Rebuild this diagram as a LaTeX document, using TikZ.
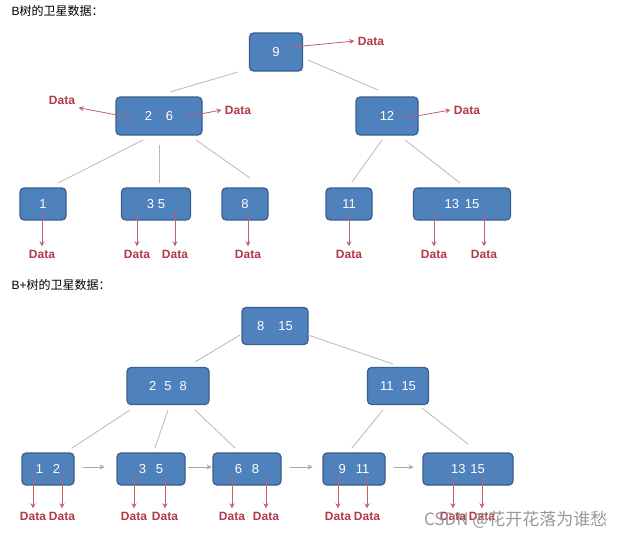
\documentclass[tikz,border=0pt]{standalone}
\usepackage{fontspec}
\setmainfont{Liberation Sans}
\newfontfamily\cjk{Noto Sans CJK SC}
\usetikzlibrary{arrows.meta}
\definecolor{keyblue}{HTML}{4F81BD}
\definecolor{keyedge}{HTML}{3A5F8C}
\definecolor{datared}{HTML}{B03A48}
\tikzset{
  key/.style={draw=keyedge, line width=1.2pt, fill=keyblue, rounded corners=4pt,
    text=white, font=\fontsize{13}{13}\selectfont, inner sep=0pt, anchor=center},
  data/.style={text=datared, font=\fontsize{12}{12}\selectfont\bfseries},
  link/.style={draw=gray!55, line width=0.8pt},
  ptr/.style={draw=datared!80, line width=0.8pt, arrows={-Stealth[width=5pt, length=5pt, open]}},
  nxt/.style={draw=gray!70, line width=0.8pt, arrows={-Stealth[width=5pt, length=5pt, open]}}
}
\begin{document}
\begin{tikzpicture}[x=1pt, y=-1pt]
\useasboundingbox[fill=white] (0, 0) rectangle (625, 539);
\node[anchor=west, font=\fontsize{12}{12}\selectfont] (title_b) at (8, 11) {B{\cjk 树的卫星数据：}};
\node[anchor=west, font=\fontsize{12}{12}\selectfont] (title_bp) at (8, 285) {B+{\cjk 树的卫星数据：}};

% B tree
\node[key, minimum width=53pt, minimum height=38pt] (K9) at (276, 52) {9};
\node[key, minimum width=86pt, minimum height=38pt] (K26) at (159, 116) {2\hspace{14pt}6};
\node[key, minimum width=62pt, minimum height=38pt] (K12) at (387, 116) {12};
\node[key, minimum width=46pt, minimum height=32pt] (K1) at (43, 204) {1};
\node[key, minimum width=69pt, minimum height=32pt] (K35) at (156, 204) {3\hspace{4pt}5};
\node[key, minimum width=46pt, minimum height=32pt] (K8) at (245, 204) {8};
\node[key, minimum width=46pt, minimum height=32pt] (K11) at (349, 204) {11};
\node[key, minimum width=97pt, minimum height=32pt] (K1315) at (462, 204) {13\hspace{6pt}15};

\draw[link] (238, 72) -- (170, 92);
\draw[link] (308, 60) -- (378, 90);
\draw[link] (143, 140) -- (58, 183);
\draw[link] (159, 145) -- (159, 183);
\draw[link] (196, 140) -- (250, 178);
\draw[link] (382, 140) -- (352, 182);
\draw[link] (405, 140) -- (460, 183);

\node[data] (D9) at (371, 41) {Data};
\node[data] (D2) at (62, 100) {Data};
\node[data] (D6) at (238, 110) {Data};
\node[data] (D12) at (467, 110) {Data};
\draw[ptr] (293, 47) -- (D9.west);
\draw[ptr] (133, 118) -- (D2.south east);
\draw[ptr] (185, 117) -- (D6.west);
\draw[ptr] (405, 118) -- (D12.west);

\foreach \x/\n in {42/a, 137/b, 175/c, 248/d, 349/e, 434/f, 484/g} {
  \node[data] (DL\n) at (\x, 254) {Data};
  \draw[ptr] (\x, 212) -- (DL\n.north);
}

% B+ tree
\node[key, minimum width=66pt, minimum height=37pt] (P815) at (275, 326) {8\hspace{14pt}15};
\node[key, minimum width=82pt, minimum height=37pt] (P258) at (168, 386) {2\hspace{8pt}5\hspace{8pt}8};
\node[key, minimum width=61pt, minimum height=37pt] (P1115) at (398, 386) {11\hspace{8pt}15};
\node[key, minimum width=52pt, minimum height=32pt] (L12) at (48, 469) {1\hspace{10pt}2};
\node[key, minimum width=68pt, minimum height=32pt] (L35) at (151, 469) {3\hspace{10pt}5};
\node[key, minimum width=68pt, minimum height=32pt] (L68) at (247, 469) {6\hspace{10pt}8};
\node[key, minimum width=62pt, minimum height=32pt] (L911) at (354, 469) {9\hspace{10pt}11};
\node[key, minimum width=90pt, minimum height=32pt] (L1315) at (468, 469) {13\hspace{5pt}15};

\draw[link] (240, 335) -- (195, 362);
\draw[link] (308, 335) -- (393, 364);
\draw[link] (130, 410) -- (72, 448);
\draw[link] (168, 410) -- (155, 448);
\draw[link] (195, 410) -- (235, 448);
\draw[link] (383, 410) -- (352, 448);
\draw[link] (422, 408) -- (468, 444);

\draw[nxt] (L12.east) ++(8, -2) -- ++(22, 0);
\draw[nxt] (L35.east) ++(2, -2) -- ++(24, 0);
\draw[nxt] (L68.east) ++(8, -2) -- ++(23, 0);
\draw[nxt] (L911.east) ++(8, -2) -- ++(20, 0);

\foreach \x/\n in {33/a, 62/b, 134/c, 165/d, 232/e, 266/f, 338/g, 367/h, 453/i, 482/j} {
  \node[data] (DP\n) at (\x, 516) {Data};
  \draw[ptr] (\x, 477) -- (DP\n.north);
}

\node[anchor=east, text=gray!80, font=\fontsize{17}{17}\selectfont\cjk] (mark) at (611, 520) {CSDN @花开花落为谁愁};
\end{tikzpicture}
\end{document}
